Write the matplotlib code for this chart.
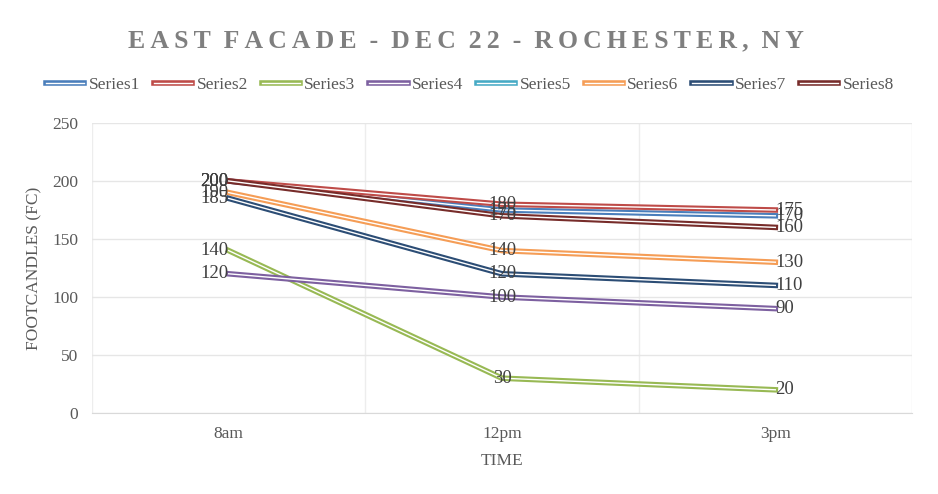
import numpy as np
import matplotlib.pyplot as plt
import matplotlib.patheffects as pe

plt.rcParams['font.family'] = ['Liberation Serif', 'DejaVu Serif']

# dados
times = ['8am', '12pm', '3pm']
series1 = [200, 175, 170]
series2 = [200, 180, 175]
series3 = [140, 30, 20]
series4 = [120, 100, 90]
series5 = [np.nan, np.nan, np.nan]
series6 = [190, 140, 130]
series7 = [185, 120, 110]
series8 = [200, 170, 160]

names = ['Series1', 'Series2', 'Series3', 'Series4', 'Series5', 'Series6', 'Series7', 'Series8']
values = [series1, series2, series3, series4, series5, series6, series7, series8]
colors = ['#4A7EBB', '#BE4B48', '#98B954', '#7D60A0', '#46AAC5', '#F59D56', '#2C4D75', '#772C2A']

fig = plt.figure(figsize=(9.38, 4.94), dpi=100)
ax = fig.add_axes([92/938, 1 - 413/494, 820/938, 290/494])

x = np.arange(len(times))
lines = []
for name, vals, c in zip(names, values, colors):
    ln, = ax.plot(x, vals, color='white', linewidth=1.0, label=name, solid_joinstyle='round',
                  path_effects=[pe.Stroke(linewidth=4.0, foreground=c), pe.Normal()])
    lines.append(ln)

# rotulos de dados
aligns = ['right', 'center', 'left']
for vals in values:
    for i, v in enumerate(vals):
        if np.isnan(v):
            continue
        ax.text(x[i], v, f'{v:g}', ha=aligns[i], va='center', fontsize=13.5, color='#404040')

ax.set_xlim(-0.5, 2.5)
ax.set_ylim(0, 250)
ax.set_yticks(np.arange(0, 251, 50))
ax.set_xticks(x)
ax.set_xticklabels(times)
ax.set_xticks([-0.5, 0.5, 1.5, 2.5], minor=True)
ax.grid(True, axis='y', color='#E6E6E6', linewidth=1)
ax.grid(True, axis='x', which='minor', color='#EDEDED', linewidth=1)
ax.set_axisbelow(True)
for s in ['top', 'right', 'left']:
    ax.spines[s].set_visible(False)
ax.spines['bottom'].set_color('#D9D9D9')
ax.tick_params(axis='both', which='both', length=0, labelsize=12.5, colors='#595959', pad=9)
ax.tick_params(axis='y', pad=10)

ax.set_xlabel('TIME', fontsize=12.5, color='#595959', labelpad=8)
ax.set_ylabel('FOOTCANDLES (FC)', fontsize=12.5, color='#595959', labelpad=7)

title = 'E A S T   F A C A D E  -  D E C  2 2  -  R O C H E S T E R ,  N Y'
title = title.replace('   ', '\u2002').replace('  ', '\u2002').replace(' ', '\u2009')
fig.text(466/938, 1 - 41/494, title, ha='center', va='center', fontsize=18.5,
         fontweight='bold', color='#7F7F7F')

fig.legend(handles=lines, loc='center', bbox_to_anchor=(470/938, 1 - 85/494), ncol=8,
           frameon=False, fontsize=12.5, labelcolor='#595959', handlelength=2.2,
           handletextpad=0.25, columnspacing=0.8)

fig.savefig('out.png', dpi=100)
